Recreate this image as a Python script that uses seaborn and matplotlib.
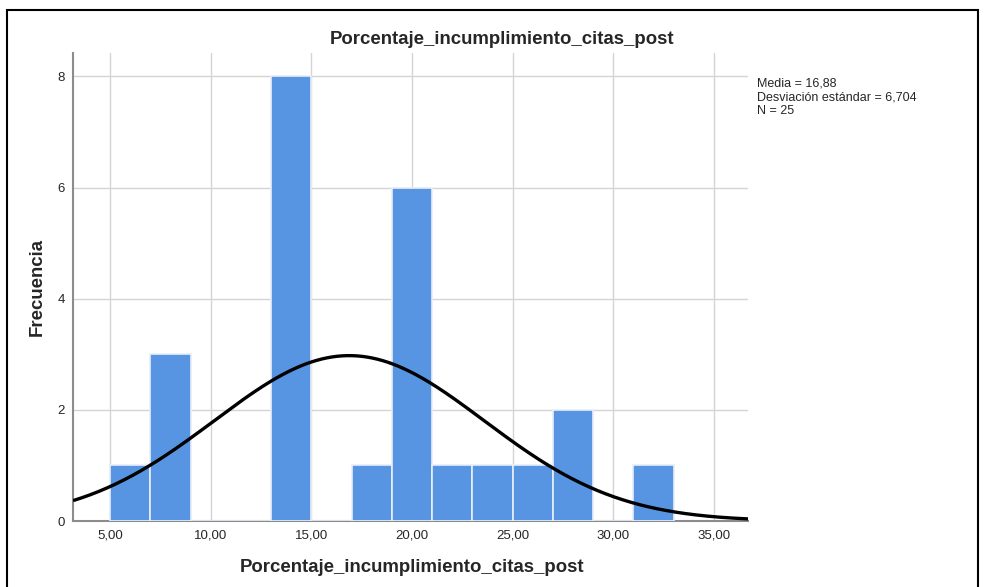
import numpy as np
import matplotlib
matplotlib.use("Agg")
import matplotlib.pyplot as plt
import seaborn as sns
from matplotlib.patches import Rectangle

bin_edges = [5, 7, 9, 11, 13, 15, 17, 19, 21, 23, 25, 27, 29, 31, 33]
bin_centers = [6, 8, 14, 18, 20, 22, 24, 26, 28, 32]
frecuencias = [1, 3, 8, 1, 6, 1, 1, 1, 2, 1]
media = 16.88
desv = 6.704
n = 25
x_ticks = [5, 10, 15, 20, 25, 30, 35]
y_ticks = [0, 2, 4, 6, 8]
variable = "Porcentaje_incumplimiento_citas_post"

sns.set_style("white")
plt.rcParams['font.family'] = ['Liberation Sans', 'DejaVu Sans']

fig = plt.figure(figsize=(9.85, 5.87), dpi=100)
ax = fig.add_axes([73/985, 66/587, 675/985, 468/587])

sns.histplot(x=bin_centers, weights=frecuencias, bins=bin_edges, ax=ax,
             color="#5795e3", alpha=1, edgecolor="#e8eefa", linewidth=1.2, zorder=3)

xmin, xmax = 3.16, 36.69
xs = np.linspace(xmin, xmax, 400)
ys = n * 2 / (desv * np.sqrt(2 * np.pi)) * np.exp(-0.5 * ((xs - media) / desv) ** 2)
ax.plot(xs, ys, color="black", lw=2.4, zorder=4, solid_capstyle="butt")

ax.set_xlim(xmin, xmax)
ax.set_ylim(0, 8.42)
ax.set_xticks(x_ticks)
ax.set_xticklabels([f"{t:.2f}".replace(".", ",") for t in x_ticks], fontsize=9.5)
ax.set_yticks(y_ticks)
ax.set_yticklabels([str(t) for t in y_ticks], fontsize=9.5)
ax.tick_params(length=0, pad=6)
ax.grid(True, color="#d4d4d4", lw=1, zorder=0)
ax.set_axisbelow(True)
for s in ["top", "right"]:
    ax.spines[s].set_visible(False)
for s in ["left", "bottom"]:
    ax.spines[s].set_color("#8c8c8c")
    ax.spines[s].set_linewidth(1.5)
ax.set_xlabel("")
ax.set_ylabel("")

fig.text(502/985, 1 - 40/587, variable, ha="center", va="center",
         fontsize=13.4, fontweight="bold")
fig.text(412/985, 1 - 568/587, variable, ha="center", va="center",
         fontsize=13.4, fontweight="bold")
fig.text(37/985, 1 - 287/587, "Frecuencia", ha="center", va="center",
         rotation=90, fontsize=13.4, fontweight="bold")
fig.text(757/985, 1 - 78/587,
         f"Media = {media:.2f}\nDesviación estándar = {desv:.3f}\nN = {n}".replace(".", ","),
         ha="left", va="top", fontsize=9, linespacing=1.15)

fig.patches.append(Rectangle((7/985, -0.05), 971/985, 1.05 - 10/587,
                             transform=fig.transFigure, fill=False,
                             edgecolor="black", lw=1.5))

fig.savefig("out.png", dpi=100)
